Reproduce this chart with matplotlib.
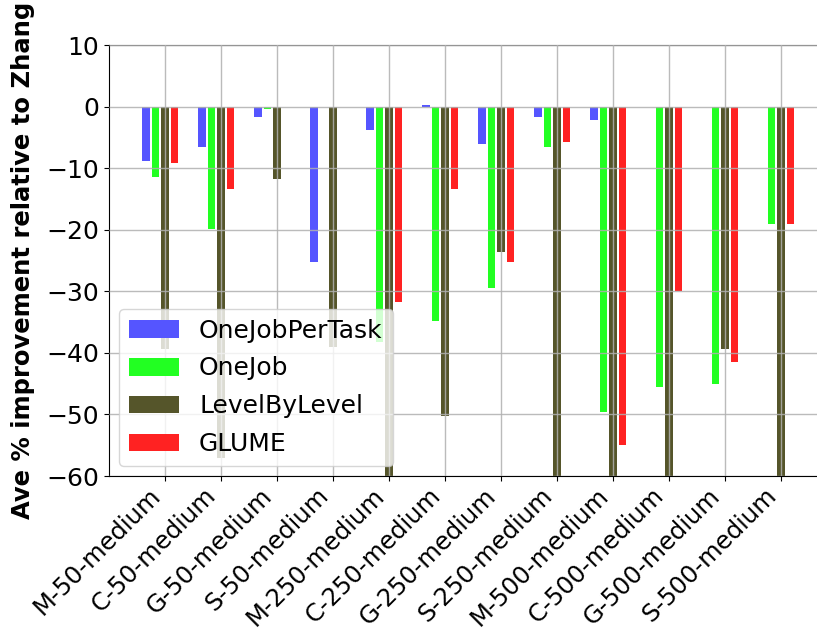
import numpy as np
import matplotlib
matplotlib.use("Agg")
import matplotlib.pyplot as plt

# groups along the x axis
categories = ['M-50-medium', 'C-50-medium', 'G-50-medium', 'S-50-medium',
              'M-250-medium', 'C-250-medium', 'G-250-medium', 'S-250-medium',
              'M-500-medium', 'C-500-medium', 'G-500-medium', 'S-500-medium']

# values (bars below -60 are clipped by the axis)
one_job_per_task = [-8.9, -6.6, -1.7, -25.2, -3.8, 0.2, -6.1, -1.7, -2.2, -0.1, -0.1, -0.1]
one_job = [-11.4, -19.9, -0.4, 0.0, -38.3, -34.9, -29.4, -6.5, -49.6, -45.6, -45.1, -19.1]
level_by_level = [-39.4, -57.0, -11.7, -39.0, -70.0, -50.2, -23.7, -70.0, -70.0, -70.0, -39.3, -70.0]
glume = [-9.2, -13.4, 0.0, 0.0, -31.8, -13.4, -25.3, -5.8, -54.9, -29.9, -41.5, -19.0]

series = [('OneJobPerTask', one_job_per_task, '#5555ff'),
          ('OneJob', one_job, '#22ff22'),
          ('LevelByLevel', level_by_level, '#55552a'),
          ('GLUME', glume, '#ff2222')]

fig = plt.figure(figsize=(8.17, 6.34), dpi=100)
# axis runs past the right edge of the picture, like the reference crop
ax = fig.add_axes([109 / 817, 158 / 634, 728 / 817, 431 / 634])

x = np.arange(len(categories))
step = 0.17
w = 0.14
for k, (name, vals, col) in enumerate(series):
    ax.bar(x + (k - 2) * step, vals, width=w, color=col, label=name, zorder=2)

ax.set_xlim(-1, 12)
ax.set_ylim(-60, 10)
ax.set_yticks(np.arange(-60, 11, 10))
ax.set_xticks(x)
ax.set_xticklabels(categories, rotation=45, ha='right', fontsize=17.5)
ax.tick_params(axis='x', pad=2)
ax.tick_params(axis='y', labelsize=18)
ax.grid(True, color='#b0b0b0', linewidth=1.0, zorder=3)
ax.set_axisbelow(False)
for gl in ax.get_xgridlines() + ax.get_ygridlines():
    gl.set_alpha(0.85)
ax.spines['right'].set_visible(False)

ax.set_ylabel('Ave % improvement relative to Zhang', fontweight='bold',
              fontsize=17.5, labelpad=8)

ax.legend(loc='lower left', fontsize=18, framealpha=0.8, labelspacing=0.55,
          borderaxespad=0.4)

fig.savefig('out.png', dpi=100)
